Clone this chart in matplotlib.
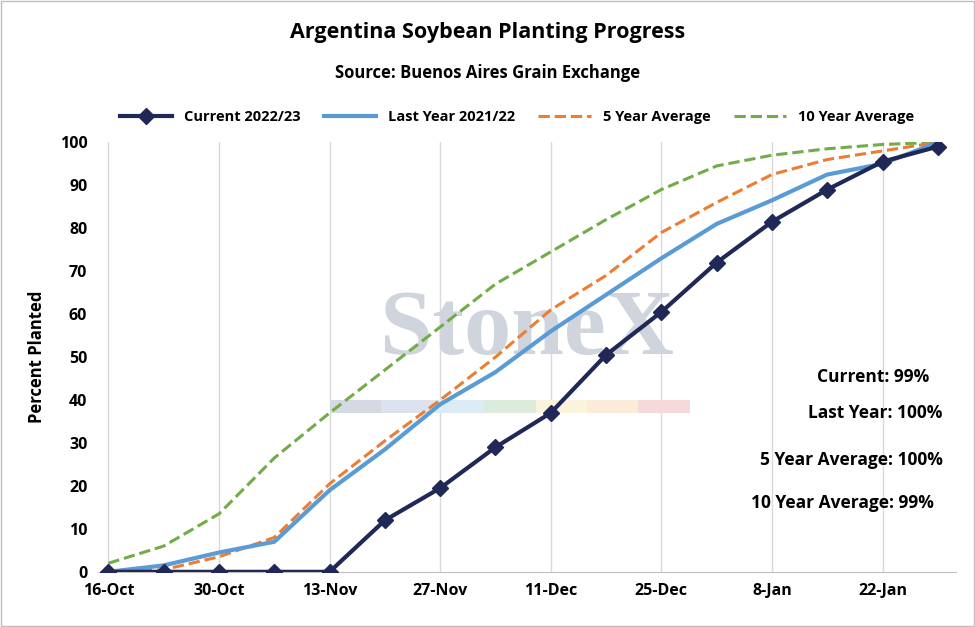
import matplotlib.pyplot as plt

weeks = ['16-Oct', '23-Oct', '30-Oct', '6-Nov', '13-Nov', '20-Nov', '27-Nov', '4-Dec',
         '11-Dec', '18-Dec', '25-Dec', '1-Jan', '8-Jan', '15-Jan', '22-Jan', '29-Jan']
current = [0, 0, 0, 0, 0, 12, 19.5, 29, 37, 50.5, 60.5, 72, 81.5, 89, 95.5, 99]
last_year = [0, 1.5, 4.5, 7, 19, 28.5, 39, 46.5, 56, 64.5, 73, 81, 86.5, 92.5, 95, 100]
avg5 = [0, 0.5, 3.5, 8, 20.5, 30.5, 40, 50, 61, 69, 79, 86, 92.5, 96, 98, 100]
avg10 = [2, 6, 13.5, 26.5, 37, 47, 57, 67, 74.5, 82, 89, 94.5, 97, 98.5, 99.5, 100]
notes = ['Current: 99%', 'Last Year: 100%', '5 Year Average: 100%', '10 Year Average: 99%']

plt.rcParams['font.family'] = ['Open Sans', 'DejaVu Sans']
fig = plt.figure(figsize=(9.75, 6.27), dpi=100)
ax = fig.add_axes([0.101, 0.088, 0.879, 0.685])
x = list(range(len(weeks)))

ax.plot(x, avg10, '--', color='#70AD47', lw=2.2, label='10 Year Average', zorder=2)
ax.plot(x, avg5, '--', color='#ED7D31', lw=2.2, label='5 Year Average', zorder=3)
ax.plot(x, last_year, color='#5B9BD5', lw=3, label='Last Year 2021/22', zorder=4)
ax.plot(x, current, color='#1F2857', lw=3, marker='D', ms=8, label='Current 2022/23', zorder=5)

ax.set_xlim(-0.18, 15.32)
ax.set_ylim(0, 100)
ax.set_yticks(range(0, 101, 10))
ax.set_xticks(x[::2])
ax.set_xticklabels(weeks[::2])
ax.grid(axis='x', color='#D9D9D9', lw=1)
ax.set_axisbelow(True)
for s in ['top', 'right', 'left']:
    ax.spines[s].set_visible(False)
ax.spines['bottom'].set_color('#BFBFBF')
ax.tick_params(length=0, labelsize=11.5, pad=8)
for t in ax.get_xticklabels() + ax.get_yticklabels():
    t.set_fontweight('bold')
ax.set_ylabel('Percent Planted', fontsize=12, fontweight='bold', labelpad=10)

h, l = ax.get_legend_handles_labels()
fig.legend(h[::-1], l[::-1], loc='center', bbox_to_anchor=(0.53, 0.813), ncol=4, frameon=False,
           prop={'weight': 'bold', 'size': 10.5}, handlelength=3.6, columnspacing=1.6)

fig.text(0.5, 0.94, 'Argentina Soybean Planting Progress', ha='center', fontsize=15.5, fontweight='bold')
fig.text(0.5, 0.875, 'Source: Buenos Aires Grain Exchange', ha='center', fontsize=12, fontweight='bold')

ax.text(0.5, 0.56, 'StoneX', transform=ax.transAxes, ha='center', va='center', fontsize=68,
        family='Liberation Serif', fontweight='bold', color='#D0D5DD', zorder=1)
wm_cols = ['#D5DAE2', '#DCE3EE', '#DDEBF5', '#DCEBDC', '#FBF4DC', '#FCEBD8', '#F6D9DA']
for i, c in enumerate(wm_cols):
    ax.axhspan(37, 40, xmin=0.27 + i * 0.06, xmax=0.27 + (i + 1) * 0.06, color=c, zorder=1, lw=0)

ys = [0.454, 0.37, 0.261, 0.161]
xs = [0.969, 0.985, 0.985, 0.975]
for n, xx, yy in zip(notes, xs, ys):
    ax.text(xx, yy, n, transform=ax.transAxes, ha='right', va='center', fontsize=12.5, fontweight='bold')
fig.patches.append(plt.Rectangle((0.001, 0.001), 0.998, 0.998, transform=fig.transFigure,
                                 fill=False, ec='#BFBFBF', lw=1))
fig.savefig('out.png')
